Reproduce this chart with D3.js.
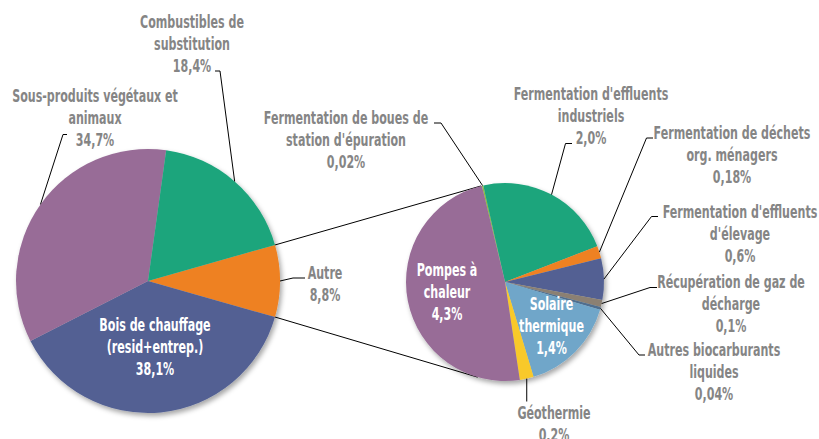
<!DOCTYPE html>
<html><head><meta charset="utf-8">
<script src="https://cdn.jsdelivr.net/npm/d3@7"></script>
<style>
html,body{margin:0;padding:0;background:#fff;}
text{font-family:"Liberation Sans Narrow","DejaVu Sans Condensed",sans-serif;font-weight:bold;}
</style></head>
<body>
<svg id="c" width="819" height="439"></svg>
<script>
// ---- data ----
const mainCategories = ["Autre", "Bois de chauffage (resid+entrep.)", "Sous-produits végétaux et animaux", "Combustibles de substitution"];
const mainValues = [8.8, 38.1, 34.7, 18.4];
const mainLabelLines = [["Autre","8,8%"],["Bois de chauffage","(resid+entrep.)","38,1%"],["Sous-produits végétaux et","animaux","34,7%"],["Combustibles de","substitution","18,4%"]];

const subCategories = ["Fermentation de boues de station d'épuration","Fermentation d'effluents industriels","Fermentation de déchets org. ménagers","Fermentation d'effluents d'élevage","Récupération de gaz de décharge","Autres biocarburants liquides","Solaire thermique","Géothermie","Pompes à chaleur"];
const subValues = [0.02, 2.0, 0.18, 0.6, 0.1, 0.04, 1.4, 0.2, 4.3];
const subLabelLines = [["Fermentation de boues de","station d'épuration","0,02%"],["Fermentation d'effluents","industriels","2,0%"],["Fermentation de déchets","org. ménagers","0,18%"],["Fermentation d'effluents","d'élevage","0,6%"],["Récupération de gaz de","décharge","0,1%"],["Autres biocarburants","liquides","0,04%"],["Solaire","thermique","1,4%"],["Géothermie","0,2%"],["Pompes à","chaleur","4,3%"]];

// ---- styles / layout ----
const mainColors = ["#ee8122","#536193","#986c97","#1ba57c"];
const subColors = ["#8fbf3c","#1ba57c","#ee8122","#536193","#8b8073","#4f6e8e","#6fa6c9","#f8c92a","#986c97"];
const deg = Math.PI/180;
const L = {cx:148, cy:281, r:132};
const R = {cx:505, cy:282, r:99};
const grey = "#858585";
const LH = 22;
const KX = 0.725;

const svg = d3.select("#c");
const defs = svg.append("defs");
const f = defs.append("filter").attr("id","sh").attr("x","-20%").attr("y","-20%").attr("width","140%").attr("height","140%");
f.append("feDropShadow").attr("dx",2).attr("dy",3).attr("stdDeviation",2.5).attr("flood-color","#000").attr("flood-opacity",0.35);

const autreSpan = mainValues[0]/d3.sum(mainValues)*2*Math.PI;
const pieMain = d3.pie().sort(null).value(d=>d).startAngle(Math.PI/2 - autreSpan/2).endAngle(Math.PI/2 - autreSpan/2 + 2*Math.PI);
const pieSub = d3.pie().sort(null).value(d=>d).startAngle(-13.5*deg).endAngle(-13.5*deg + 2*Math.PI);
const mainArcs = pieMain(mainValues);
const subArcs = pieSub(subValues);

function pt(c, a, r){ return [c.cx + (r ?? c.r)*Math.sin(a), c.cy - (r ?? c.r)*Math.cos(a)]; }

// connector lines
const conn = svg.append("g").attr("stroke","#000").attr("stroke-width",1).attr("fill","none");
const a0 = mainArcs[0];
const lTop = pt(L, a0.startAngle), lBot = pt(L, a0.endAngle);
const rTop = pt(R, -14*deg), rBot = pt(R, 196*deg);
conn.append("line").attr("x1",lTop[0]).attr("y1",lTop[1]).attr("x2",rTop[0]).attr("y2",rTop[1]);
conn.append("line").attr("x1",lBot[0]).attr("y1",lBot[1]).attr("x2",rBot[0]).attr("y2",rBot[1]);

// pies
const gL = svg.append("g").attr("transform",`translate(${L.cx},${L.cy})`).attr("filter","url(#sh)");
gL.selectAll("path").data(mainArcs).join("path").attr("d", d3.arc().innerRadius(0).outerRadius(L.r)).attr("fill",(d,i)=>mainColors[i]);
const gR = svg.append("g").attr("transform",`translate(${R.cx},${R.cy})`).attr("filter","url(#sh)");
gR.selectAll("path").data(subArcs).join("path").attr("d", d3.arc().innerRadius(0).outerRadius(R.r)).attr("fill",(d,i)=>subColors[i]);

const mainLayout = [
  {x:325, y:273, col:grey, lead:[[305,278],[293,278]]},
  {x:155, y:325, col:"#fff", lead:null},
  {x:95, y:96, col:grey, lead:[[67,134.5],[63,134.5]]},
  {x:192, y:22, col:grey, lead:[[215,71],[220,71]]}
];
const subLayout = [
  {x:346, y:118, col:grey, lead:[[434,123],[441,123]]},
  {x:591, y:94, col:grey, lead:[[572,143.5],[565.5,143.5]]},
  {x:732, y:133, col:grey, lead:[[653,138],[646.5,138]]},
  {x:740, y:212, col:grey, lead:[[658,216.5],[651.5,216.5]]},
  {x:731, y:282, col:grey, lead:[[657,287.5],[650,287.5]]},
  {x:714, y:350, col:grey, lead:[[645,355],[639,355]]},
  {x:551.5, y:304, col:"#fff", lead:null},
  {x:554, y:413, col:grey, lead:"v"},
  {x:447, y:270, col:"#fff", lead:null}
];

const leadG = svg.append("g").attr("stroke","#000").attr("stroke-width",1).attr("fill","none");
const txtG = svg.append("g").attr("font-size","17px").attr("text-anchor","middle");

function drawLabels(arcs, layout, lines, c){
  arcs.forEach((a,i)=>{
    const lay = layout[i];
    const mid = (a.startAngle + a.endAngle)/2;
    const p = pt(c, mid);
    if (lay.lead === "v") {
      leadG.append("polyline").attr("points", [[p[0], 401.5], p].map(q=>q.join(",")).join(" "));
    } else if (lay.lead) {
      leadG.append("polyline").attr("points", lay.lead.concat([p]).map(q=>q.join(",")).join(" "));
    }
    const t = txtG.append("text").attr("fill", lay.col).attr("transform",`translate(${lay.x},0) scale(${KX},1)`);
    lines[i].forEach((s,j)=>{
      t.append("tspan").attr("x", 0).attr("y", lay.y + j*LH).attr("dy","0.36em").text(s);
    });
  });
}
drawLabels(mainArcs, mainLayout, mainLabelLines, L);
drawLabels(subArcs, subLayout, subLabelLines, R);
</script>
</body></html>
